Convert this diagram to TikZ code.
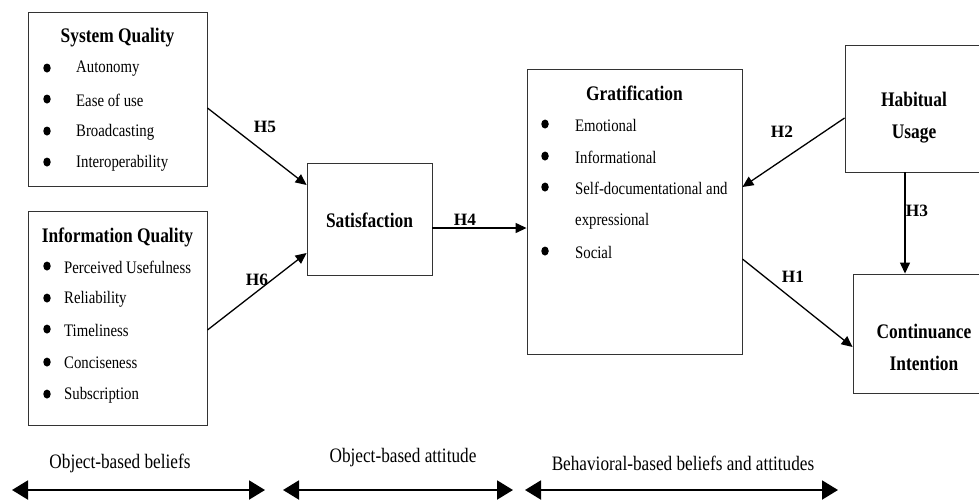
\documentclass[tikz,border=0pt]{standalone}
\usepackage{fontspec}
\setmainfont[FakeStretch=0.84]{Liberation Serif}
\newfontfamily\lblfont{Liberation Serif}
\usetikzlibrary{arrows.meta,shapes.geometric}

\tikzset{
  box/.style={draw=black!80,line width=0.9pt,inner sep=0pt},
  ttl/.style={font=\fontsize{20.7}{24}\selectfont\bfseries,inner sep=0pt},
  itm/.style={font=\fontsize{17.6}{20}\selectfont,anchor=west,inner sep=0pt},
  dot/.style={ellipse,fill=black,inner sep=0pt,minimum width=7.5pt,minimum height=9pt},
  hyp/.style={line width=1.3pt,-{Triangle[length=11pt,width=10pt]}},
  hlbl/.style={font=\lblfont\fontsize{17.3}{18}\selectfont\bfseries,inner sep=0pt},
  span/.style={line width=2pt,{Triangle[length=16pt,width=19pt]}-{Triangle[length=16pt,width=19pt]}},
  stage/.style={font=\fontsize{20.5}{22}\selectfont,inner sep=0pt}
}

\begin{document}
\begin{tikzpicture}[x=1pt,y=-1pt]
  \clip (0,0) rectangle (979,501);
  % boxes
  \node[box,minimum width=179pt,minimum height=174pt] (sysq) at (117.5,99) {};
  \node[box,minimum width=179pt,minimum height=214pt] (infq) at (117.5,318) {};
  \node[box,minimum width=125pt,minimum height=112pt] (sat) at (369.5,219) {};
  \node[box,minimum width=215pt,minimum height=285pt] (grat) at (634.5,211.5) {};
  \node[box,minimum width=138pt,minimum height=127pt] (habit) at (914,108.5) {};
  \node[box,minimum width=142pt,minimum height=119pt] (cont) at (924,333.5) {};

  % system quality
  \node[ttl] (sysqt) at (117.5,38) {System Quality};
  \node[dot] (s1) at (47,68) {};
  \node[itm] (s1t) at (76,69) {Autonomy};
  \node[dot] (s2) at (47,99) {};
  \node[itm] (s2t) at (76,100) {Ease of use};
  \node[dot] (s3) at (47,131) {};
  \node[itm] (s3t) at (76,132) {Broadcasting};
  \node[dot] (s4) at (47,162) {};
  \node[itm] (s4t) at (76,163) {Interoperability};

  % information quality
  \node[ttl] (infqt) at (117.5,237) {Information Quality};
  \node[dot] (i1) at (47,266) {};
  \node[itm] (i1t) at (64,267) {Perceived Usefulness};
  \node[dot] (i2) at (47,298) {};
  \node[itm] (i2t) at (64,299) {Reliability};
  \node[dot] (i3) at (47,329) {};
  \node[itm] (i3t) at (64,330) {Timeliness};
  \node[dot] (i4) at (47,362) {};
  \node[itm] (i4t) at (64,363) {Conciseness};
  \node[dot] (i5) at (47,394) {};
  \node[itm] (i5t) at (64,395) {Subscription};

  % satisfaction
  \node[ttl] (satt) at (369.5,220) {Satisfaction};

  % gratification
  \node[ttl] (gratt) at (634.5,93) {Gratification};
  \node[dot] (g1) at (545,124) {};
  \node[itm] (g1t) at (575,125) {Emotional};
  \node[dot] (g2) at (545,156) {};
  \node[itm] (g2t) at (575,157) {Informational};
  \node[dot] (g3) at (545,187) {};
  \node[itm] (g3t) at (575,188) {Self-documentational and};
  \node[itm] (g3u) at (575,221) {expressional};
  \node[dot] (g4) at (545,251) {};
  \node[itm] (g4t) at (575,252) {Social};

  % habit, continuance
  \node[ttl,align=center] (habitt) at (914,118) {Habitual\\[8pt]Usage};
  \node[ttl,align=center] (contt) at (924,347.5) {Continuance\\[8pt]Intention};

  % hypotheses
  \draw[hyp] ([yshift=-9pt]sysq.east) -- ([yshift=34pt]sat.west);
  \draw[hyp] ([yshift=-12pt]infq.east) -- ([yshift=-34pt]sat.west);
  \draw[hyp] ([yshift=-9pt]sat.east) -- ([yshift=-16.5pt]grat.west);
  \draw[hyp] ([yshift=-9.5pt]habit.west) -- ([yshift=24.5pt]grat.east);
  \draw[hyp] ([xshift=-9pt]habit.south) -- ([xshift=-19pt]cont.north);
  \draw[hyp] ([yshift=-47.5pt]grat.east) -- ([yshift=-13.5pt]cont.west);
  \node[hlbl] (h5) at (265,127) {H5};
  \node[hlbl] (h6) at (257,280) {H6};
  \node[hlbl] (h4) at (465,220) {H4};
  \node[hlbl] (h2) at (782,132) {H2};
  \node[hlbl] (h3) at (917,211) {H3};
  \node[hlbl] (h1) at (793,277) {H1};

  % stages
  \node[stage] (st1) at (120,463) {Object-based beliefs};
  \node[stage] (st2) at (403,458) {Object-based attitude};
  \node[stage] (st3) at (683,463) {Behavioral-based beliefs and attitudes};
  \coordinate (a1) at (12,490);
  \coordinate (b1) at (265,490);
  \coordinate (a2) at (283,490);
  \coordinate (b2) at (513,490);
  \coordinate (a3) at (525,490);
  \coordinate (b3) at (838,490);
  \draw[span] (a1) -- (b1);
  \draw[span] (a2) -- (b2);
  \draw[span] (a3) -- (b3);
\end{tikzpicture}
\end{document}
